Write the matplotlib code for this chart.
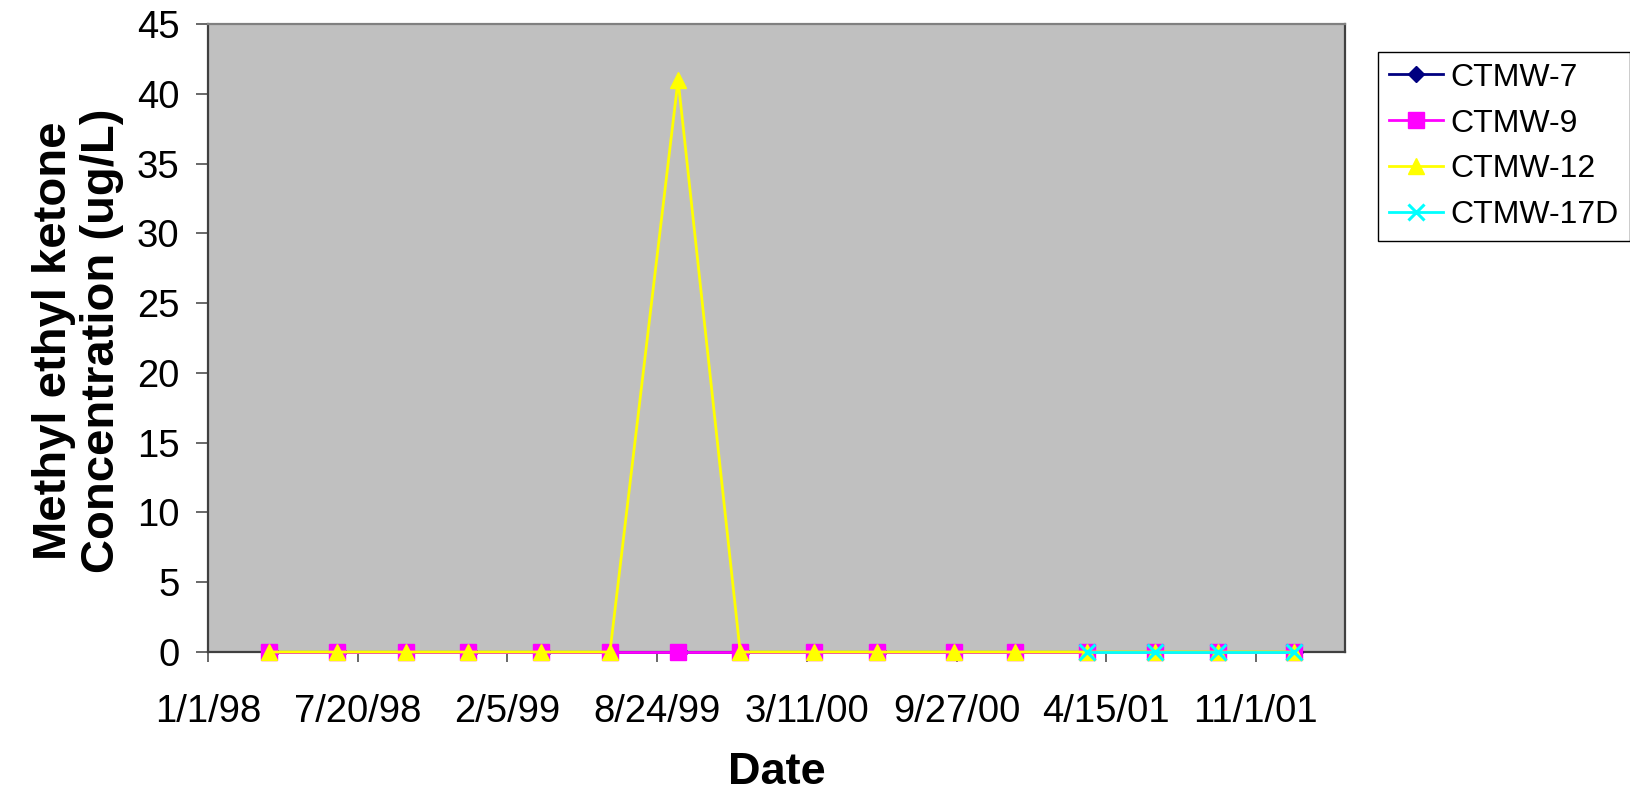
import matplotlib
matplotlib.use("Agg")
import matplotlib.pyplot as plt
from datetime import datetime

plt.rcParams['font.family'] = ['Liberation Sans', 'DejaVu Sans']

# ---- data ----
sample_dates = ['1998-03-24', '1998-06-23', '1998-09-22', '1998-12-15',
                '1999-03-22', '1999-06-22', '1999-09-21', '1999-12-13',
                '2000-03-20', '2000-06-13', '2000-09-23', '2000-12-14',
                '2001-03-20', '2001-06-19', '2001-09-11', '2001-12-22']
ctmw7_dates = ['1998-03-26', '1998-06-25', '1998-09-24', '1998-12-17',
               '1999-03-24', '1999-06-24', '1999-09-23', '1999-12-15',
               '2000-03-22', '2000-06-15', '2000-09-25', '2000-12-16',
               '2001-03-22', '2001-06-21', '2001-09-13', '2001-12-23']
ctmw7 = [0, 0, 0, 0, 0, 0, 0, 0, 0, 0, 0, 0, 0, 0, 0, 0]
ctmw9 = [0, 0, 0, 0, 0, 0, 0, 0, 0, 0, 0, 0, 0, 0, 0, 0]
ctmw12 = [0, 0, 0, 0, 0, 0, 41, 0, 0, 0, 0, 0, 0, 0, 0, 0]
ctmw17d_dates = ['2001-03-20', '2001-06-19', '2001-09-11', '2001-12-22']
ctmw17d = [0, 0, 0, 0]

tick_labels = ['1/1/98', '7/20/98', '2/5/99', '8/24/99',
               '3/11/00', '9/27/00', '4/15/01', '11/1/01']
x_min = '1998-01-01'
x_max = '2002-02-28'
y_ticks = [0, 5, 10, 15, 20, 25, 30, 35, 40, 45]

def to_dt(lst):
    return [datetime.strptime(s, '%Y-%m-%d') for s in lst]

tick_pos = [datetime.strptime(s, '%m/%d/%y') for s in tick_labels]

fig = plt.figure(figsize=(16.3, 7.96), dpi=100)
ax = fig.add_axes([208/1630, 1 - 652/796, (1345-208)/1630, (652-24)/796])
ax.set_facecolor('#C0C0C0')

ms = 11.5
lw = 2.0
ax.plot(to_dt(ctmw7_dates), ctmw7, color='#000080', marker='D', markersize=8.3,
        linewidth=lw, label='CTMW-7', clip_on=False, zorder=3)
ax.plot(to_dt(sample_dates), ctmw9, color='#FF00FF', marker='s', markersize=ms,
        linewidth=lw, label='CTMW-9', clip_on=False, zorder=3)
ax.plot(to_dt(sample_dates), ctmw12, color='#FFFF00', marker='^', markersize=ms,
        linewidth=lw, label='CTMW-12', clip_on=False, zorder=3)
ax.plot(to_dt(ctmw17d_dates), ctmw17d, color='#00FFFF', marker='x', markersize=ms,
        markeredgewidth=2.2, linewidth=lw, label='CTMW-17D', clip_on=False, zorder=3)

ax.set_xlim(datetime.strptime(x_min, '%Y-%m-%d'), datetime.strptime(x_max, '%Y-%m-%d'))
ax.set_ylim(0, 45)
ax.set_yticks(y_ticks)
ax.set_xticks(tick_pos)
ax.set_xticklabels(tick_labels)

for side in ['left', 'bottom', 'right']:
    ax.spines[side].set_color('#404040')
    ax.spines[side].set_linewidth(1.6)
ax.spines['top'].set_color('#808080')
ax.spines['top'].set_linewidth(1.6)

ax.tick_params(axis='y', direction='out', length=8.5, width=1.1, color='#404040',
               labelsize=27.5, pad=12)
ax.tick_params(axis='x', direction='out', length=7.5, width=1.1, color='#404040',
               labelsize=27.5, pad=23)

ax.set_ylabel('Methyl ethyl ketone\nConcentration (ug/L)', fontsize=34,
              fontweight='bold', linespacing=1.13)
ax.yaxis.label.set_va('center')
ax.yaxis.set_label_coords((78 - 208) / (1345 - 208), 0.495)

ax.set_xlabel('Date', fontsize=32.5, fontweight='bold')
ax.xaxis.label.set_va('center')
ax.xaxis.set_label_coords(0.5, (652 - 773) / (652 - 24))

leg = ax.legend(loc='upper left', bbox_to_anchor=(1378/1630, 1 - 52/796),
                bbox_transform=fig.transFigure, fontsize=23, frameon=True,
                fancybox=False, shadow=False, handlelength=1.7,
                handletextpad=0.25, labelspacing=0.5, borderpad=0.33,
                borderaxespad=0)
leg.get_frame().set_edgecolor('black')
leg.get_frame().set_linewidth(1.0)
leg.get_frame().set_facecolor('white')
leg.get_frame().set_alpha(1)

fig.savefig('out.png', dpi=100)
